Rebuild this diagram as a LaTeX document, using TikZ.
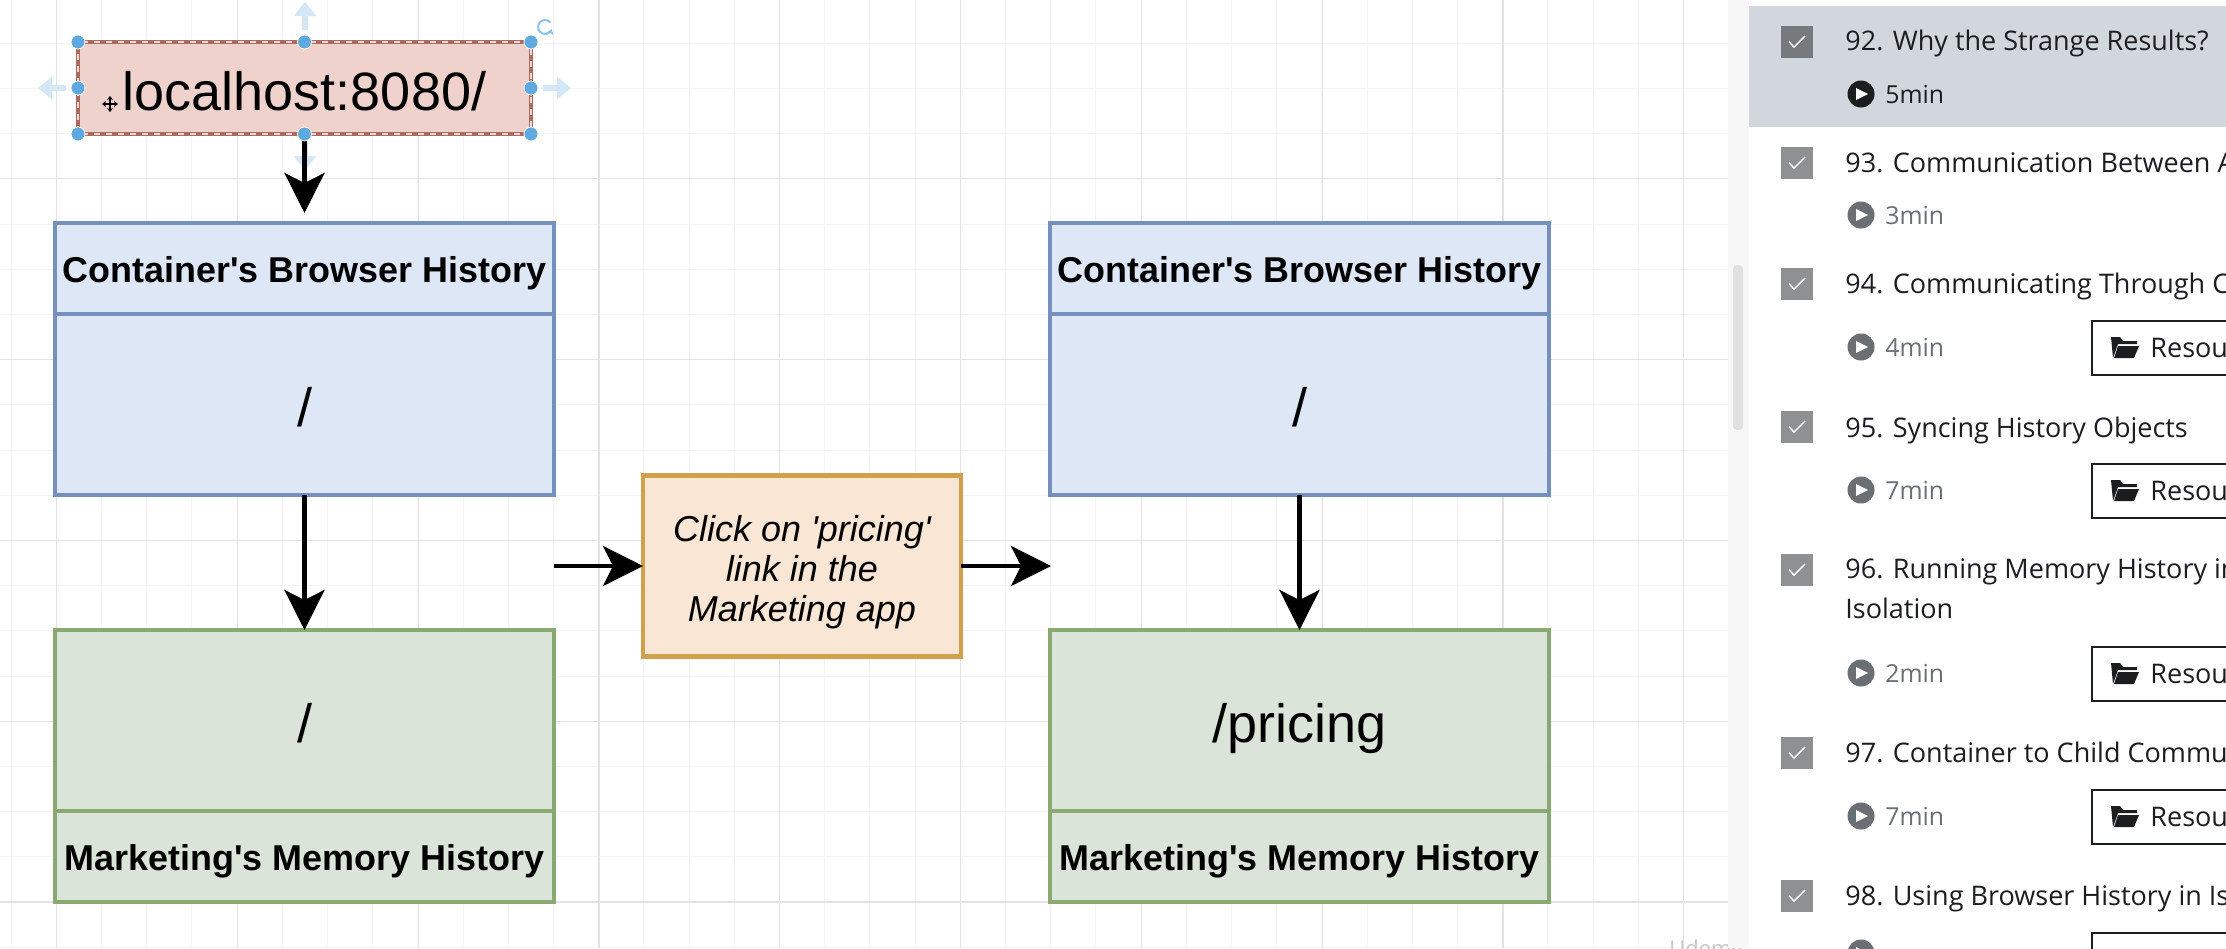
\documentclass[tikz,border=0pt]{standalone}
\usepackage{fontspec}
\setmainfont{Liberation Sans}[Ligatures=TeXOff]
\newfontfamily\panelfont{Open Sans}
\usetikzlibrary{arrows.meta,positioning}

\definecolor{gridmajor}{HTML}{E3E3E3}
\definecolor{gridminor}{HTML}{F5F5F5}
\definecolor{handle}{HTML}{5DA9E0}
\definecolor{handlefade}{HTML}{D3E7F6}
\definecolor{inktext}{HTML}{1C1D1F}
\definecolor{timetext}{HTML}{6A6F73}
\definecolor{bluedraw}{HTML}{7590BD}
\definecolor{bluefill}{HTML}{DEE7F6}
\definecolor{greendraw}{HTML}{8AA872}
\definecolor{greenfill}{HTML}{DAE4D8}
\definecolor{urldraw}{HTML}{AE6A5F}
\definecolor{urlfill}{HTML}{F0D2CD}
\definecolor{clickdraw}{HTML}{D0A04A}
\definecolor{clickfill}{HTML}{FAE6D4}
\definecolor{rowgrey}{HTML}{D1D7DC}
\definecolor{tickdark}{HTML}{767A7D}
\definecolor{ticklight}{HTML}{8F9092}

\begin{document}
\begin{tikzpicture}[
    x=0.5pt, y=-0.5pt,
    box/.style={draw, line width=2.4pt, inner sep=0pt, outer sep=0pt, minimum width=249.5pt, align=center},
    head/.style={minimum height=45.5pt, text height=14pt, text depth=0pt, font=\fontsize{17.95}{20}\selectfont\bfseries},
    body/.style={minimum height=90.5pt, text height=22pt, text depth=0pt, font=\fontsize{27}{30}\selectfont},
    bluebox/.style={box, draw=bluedraw, fill=bluefill},
    greenbox/.style={box, draw=greendraw, fill=greenfill},
    flow/.style={-{Stealth[length=20pt,width=20pt,inset=5pt]}, line width=2.2pt, black},
    dot/.style={circle, fill=handle, draw=white, line width=0.4pt, inner sep=0pt, minimum size=7pt},
    fade/.style={-{Triangle[length=7pt,width=11pt]}, line width=3pt, handlefade},
    tick/.style={fill=#1, minimum size=16pt, inner sep=0pt},
    title/.style={anchor=base west, inner sep=0pt, text=inktext, font=\panelfont\fontsize{13.5}{16}\selectfont},
    mins/.style={anchor=base west, inner sep=0pt, font=\panelfont\fontsize{12.4}{16}\selectfont},
    resource/.style={draw=inktext, line width=0.9pt, fill=white, anchor=north west, inner sep=0pt, minimum width=140pt, minimum height=27pt},
]

\useasboundingbox (0,0) rectangle (2226,948);
\clip (0,0) rectangle (2226,948);
\fill[white] (0,0) rectangle (2226,948);

% canvas grid
\foreach \n in {0,...,38} {
    \draw[gridminor, line width=0.5pt] ({11+45.2*\n},0) -- ({11+45.2*\n},948);
}
\foreach \n in {0,...,21} {
    \draw[gridminor, line width=0.5pt] (0,{-2+45.2*\n}) -- (1728,{-2+45.2*\n});
}
\foreach \n in {0,...,9} {
    \draw[gridmajor, line width=0.6pt] ({56.5+180.8*\n},0) -- ({56.5+180.8*\n},948);
}
\foreach \n in {1,...,5} {
    \draw[gridmajor, line width=0.6pt] (0,{-2+180.8*\n}) -- (1728,{-2+180.8*\n});
}
\node[text=black!22, inner sep=0pt, anchor=base, font=\panelfont\fontsize{11}{12}\selectfont] (mark) at (1706,956) {Udemy};

% left column
\node[bluebox, head] (headA) at (304.5,268.5) {Container's Browser History};
\node[bluebox, body, below=0pt of headA] (bodyA) {/};
\node[greenbox, body] (memA) at (304.5,720.5) {/};
\node[greenbox, head, below=0pt of memA] (footA) {Marketing's Memory History};

% right column
\node[bluebox, head, right=248pt of headA] (headB) {Container's Browser History};
\node[bluebox, body, below=0pt of headB] (bodyB) {/};
\node[greenbox, body, right=248pt of memA] (memB) {/pricing};
\node[greenbox, head, below=0pt of memB] (footB) {Marketing's Memory History};

% url and click
\node[box, draw=urldraw, fill=urlfill, minimum width=226.5pt, minimum height=46pt, text height=22pt, text depth=0pt, font=\fontsize{27}{30}\selectfont] (url) at (304.5,88) {localhost:8080/};
\draw[white!75!urldraw, line width=0.7pt, dashed] (url.north west) rectangle (url.south east);
\node[box, draw=clickdraw, fill=clickfill, minimum width=159pt, minimum height=90.5pt, text height=55.2pt, text depth=0pt, font=\fontsize{18}{20}\selectfont\itshape] (click) at (802,566) {Click on 'pricing'\\link in the\\Marketing app};

\coordinate (gapA) at (554,566);
\coordinate (gapB) at (1051,566);
\coordinate (downA) at (305,139);
\coordinate (downB) at (305,170);
\draw[fade] (downA) -- (downB);
\draw[flow, shorten >=5pt] (url) -- (headA);
\draw[flow] (bodyA) -- (memA);
\draw[flow] (bodyB) -- (memB);
\draw[flow] (gapA) -- (click);
\draw[flow] (click) -- (gapB);

% selection handles
\foreach \p in {north west,north,north east,west,east,south west,south,south east} {
    \node[dot] at (url.\p) {};
}
\coordinate (upA) at (305,30);
\coordinate (upB) at (305,2);
\coordinate (leftA) at (66,88);
\coordinate (leftB) at (38,88);
\coordinate (rightA) at (543,88);
\coordinate (rightB) at (571,88);
\draw[fade] (upA) -- (upB);
\draw[fade] (leftA) -- (leftB);
\draw[fade] (rightA) -- (rightB);
\draw[handle!70!white, line width=1pt, -{Stealth[length=2.5pt,width=4pt]}] (550.4,22.5) arc (40:340:3.5pt);

% move cursor
\coordinate (cursor) at (110,104);
\draw[black, line width=0.7pt, {Stealth[length=2pt,width=3pt]}-{Stealth[length=2pt,width=3pt]}] ([xshift=-4pt]cursor) -- ([xshift=4pt]cursor);
\draw[black, line width=0.7pt, {Stealth[length=2pt,width=3pt]}-{Stealth[length=2pt,width=3pt]}] ([yshift=-4pt]cursor) -- ([yshift=4pt]cursor);

% side panel
\fill[black!3] (1728,0) rectangle (1749,948);
\fill[white] (1749,0) rectangle (2226,948);
\fill[black!12, rounded corners=2pt] (1733,265) rectangle (1743,430);
\fill[rowgrey] (1749,6) rectangle (2226,127);

\foreach \name/\y/\col in {p/42/tickdark,q/163/ticklight,r/284/ticklight,s/427/ticklight,t/570/ticklight,u/753/ticklight,v/896/ticklight} {
    \node[tick=\col] (tick\name) at (1797,\y) {};
    \draw[white, line width=0.7pt] ([shift={(-4pt,0.2pt)}]tick\name.center) -- ([shift={(-1.5pt,-2.6pt)}]tick\name.center) -- ([shift={(4pt,3pt)}]tick\name.center);
}

\node[title] (rowp) at (1845,50) {92. Why the Strange Results?};
\node[title] (rowq) at (1845,172) {93. Communication Between A};
\node[title] (rowr) at (1845,293) {94. Communicating Through C};
\node[title] (rows) at (1845,437) {95. Syncing History Objects};
\node[title] (rowt) at (1845,578) {96. Running Memory History in};
\node[title] (rowtt) at (1845,618) {Isolation};
\node[title] (rowu) at (1845,762) {97. Container to Child Commun};
\node[title] (rowv) at (1845,905) {98. Using Browser History in Is};

\foreach \y/\t/\col in {94/5min/inktext,215/3min/timetext,347/4min/timetext,490/7min/timetext,673/2min/timetext,816/7min/timetext,953/{}/timetext} {
    \node[circle, fill=\col, minimum size=13.5pt, inner sep=0pt] (play\y) at (1861,\y) {};
    \fill[white] ([shift={(-2.5pt,-3pt)}]play\y.center) -- ([shift={(3.5pt,0pt)}]play\y.center) -- ([shift={(-2.5pt,3pt)}]play\y.center) -- cycle;
    \node[mins, text=\col] at (1885,\y+9) {\t};
}

\foreach \y in {320,463,646,789,932} {
    \node[resource] (res\y) at (2091,\y) {};
}
\foreach \y in {320,463,646,789} {
    \coordinate (fold) at (2111,\y+17);
    \fill[inktext] (fold) -- ++(9,0) -- ++(3,4) -- ++(14,0) -- ++(0,3) -- ++(-19,0) -- ++(-5,14) -- cycle;
    \fill[inktext] (2118,\y+26) -- ++(21,0) -- ++(-5,12) -- ++(-20,0) -- cycle;
    \node[title] at (2150,\y+37) {Resou};
}
\end{tikzpicture}
\end{document}
